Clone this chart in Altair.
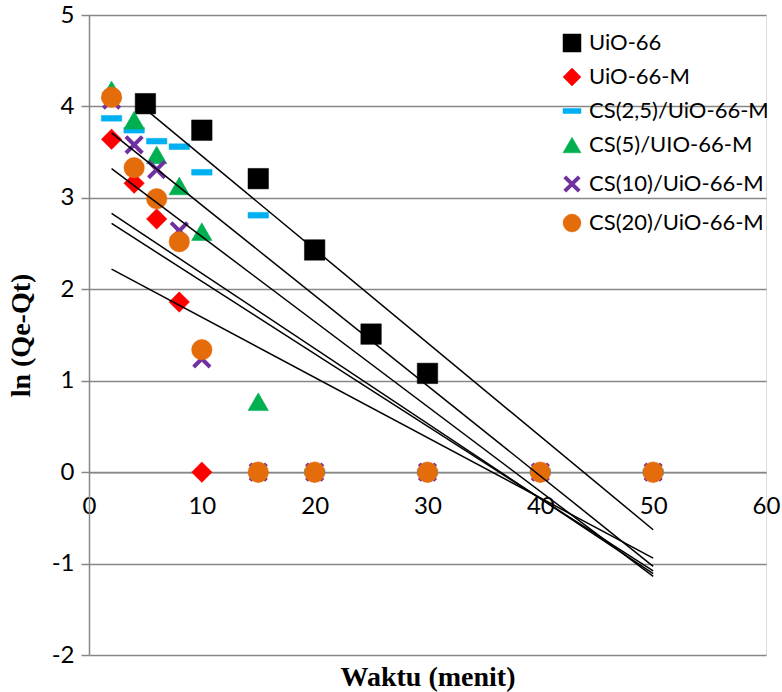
import altair as alt
import pandas as pd

# ---- data ----
series_names = ["UiO-66", "UiO-66-M", "CS(2,5)/UiO-66-M", "CS(5)/UIO-66-M",
                "CS(10)/UiO-66-M", "CS(20)/UiO-66-M"]
series_colors = ["#000000", "#FF0000", "#00B0F0", "#00B050", "#7030A0", "#E46C0A"]

uio66_t = [5, 10, 15, 20, 25, 30]
uio66_y = [4.03, 3.74, 3.21, 2.43, 1.51, 1.08]

uio66m_t = [2, 4, 6, 8, 10, 15, 20, 30, 40, 50]
uio66m_y = [3.64, 3.16, 2.77, 1.86, 0, 0, 0, 0, 0, 0]

cs25_t = [2, 4, 6, 8, 10, 15, 20, 30, 40, 50]
cs25_y = [3.87, 3.74, 3.62, 3.56, 3.28, 2.81, 0, 0, 0, 0]

cs5_t = [2, 4, 6, 8, 10, 15]
cs5_y = [4.18, 3.85, 3.47, 3.13, 2.63, 0.77]

cs10_t = [2, 4, 6, 8, 10, 15, 20, 30, 40, 50]
cs10_y = [4.07, 3.58, 3.31, 2.64, 1.24, 0, 0, 0, 0, 0]

cs20_t = [2, 4, 6, 8, 10, 15, 20, 30, 40, 50]
cs20_y = [4.10, 3.33, 2.99, 2.52, 1.34, 0, 0, 0, 0, 0]

# linear trend lines (start / end)
trend_x1 = [5, 2, 2, 2, 2, 2]
trend_y1 = [3.97, 2.22, 3.71, 3.32, 2.83, 2.72]
trend_x2 = [50, 50, 50, 50, 50, 50]
trend_y2 = [-0.63, -0.94, -1.03, -1.14, -1.11, -1.08]

x_ticks = [0, 10, 20, 30, 40, 50, 60]
y_ticks = [-2, -1, 0, 1, 2, 3, 4, 5]

# ---- build tables ----
rows = []
for name, ts, ys in zip(series_names,
                        [uio66_t, uio66m_t, cs25_t, cs5_t, cs10_t, cs20_t],
                        [uio66_y, uio66m_y, cs25_y, cs5_y, cs10_y, cs20_y]):
    for t, y in zip(ts, ys):
        rows.append({"t": t, "y": y, "series": name})
pts = pd.DataFrame(rows)

trend = pd.DataFrame({"series": series_names, "x1": trend_x1, "y1": trend_y1,
                      "x2": trend_x2, "y2": trend_y2})

DASH = "M-1,-0.28L1,-0.28L1,0.28L-1,0.28Z"
XSYM = "M-0.8,-0.8L0.8,0.8M-0.8,0.8L0.8,-0.8"
shapes = ["square", "diamond", DASH, "triangle-up", XSYM, "circle"]
stroke_widths = [0.5, 0.5, 0.5, 0.5, 4, 0.5]

W, H = 677, 640
GRID = "#878787"
LABEL_FONT = "Lato"

xscale = alt.Scale(domain=[0, 60], nice=False, zero=False)
yscale = alt.Scale(domain=[-2, 5], nice=False, zero=False)

x_axis = alt.Axis(values=x_ticks, offset=-(H * 2 / 7), grid=False, ticks=False,
                  domainColor=GRID, domainWidth=1.5, labelFont=LABEL_FONT,
                  labelFontSize=24, labelColor="black", labelPadding=22,
                  labelExpr="'' + datum.value",
                  title="Waktu (menit)", titleFont="Liberation Serif",
                  titleFontSize=28, titleFontWeight="bold", titleColor="black",
                  titleX=W / 2, titleY=205, titleAlign="center",
                  titleBaseline="middle", labelFlush=False, labelOverlap=False)
y_axis = alt.Axis(values=y_ticks, grid=True, gridColor=GRID, gridWidth=1.5,
                  domainColor=GRID, domainWidth=1.5, tickColor=GRID, tickWidth=1.5,
                  tickSize=8, labelFont=LABEL_FONT, labelFontSize=24,
                  labelColor="black", labelPadding=7,
                  labelExpr="'' + datum.value",
                  title="ln (Qe-Qt)", titleFont="Liberation Serif",
                  titleFontSize=28, titleFontWeight="bold", titleColor="black",
                  titleX=-68, titleY=H / 2, titleAlign="center",
                  titleBaseline="middle", titleAngle=-90, labelFlush=False)

legend = alt.Legend(title=None, orient="none", legendX=472, legendY=17,
                    labelFont=LABEL_FONT, labelFontSize=22, labelColor="black",
                    symbolSize=324, rowPadding=12, labelOffset=6, padding=0,
                    symbolOpacity=1, labelLimit=0)

color_scale = alt.Scale(domain=series_names, range=series_colors)

points = alt.Chart(pts).mark_point(size=420, opacity=1, filled=True).encode(
    x=alt.X("t:Q", scale=xscale, axis=x_axis),
    y=alt.Y("y:Q", scale=yscale, axis=y_axis),
    fill=alt.Fill("series:N", scale=color_scale, legend=legend),
    stroke=alt.Stroke("series:N", scale=color_scale, legend=legend),
    shape=alt.Shape("series:N", scale=alt.Scale(domain=series_names, range=shapes),
                    legend=legend),
    strokeWidth=alt.StrokeWidth("series:N",
                                scale=alt.Scale(type="ordinal", domain=series_names,
                                                range=stroke_widths),
                                legend=legend),
)

lines = alt.Chart(trend).mark_rule(color="black", strokeWidth=1.5).encode(
    x="x1:Q", y="y1:Q", x2="x2:Q", y2="y2:Q")

chart = alt.layer(points, lines).properties(
    width=W, height=H,
    autosize=alt.AutoSizeParams(type="none"),
    padding={"left": 89, "top": 15, "right": 16, "bottom": 37},
).configure_view(stroke=None).configure(background="white")

chart.save("out.html", embed_options={"renderer": "svg", "actions": False})
